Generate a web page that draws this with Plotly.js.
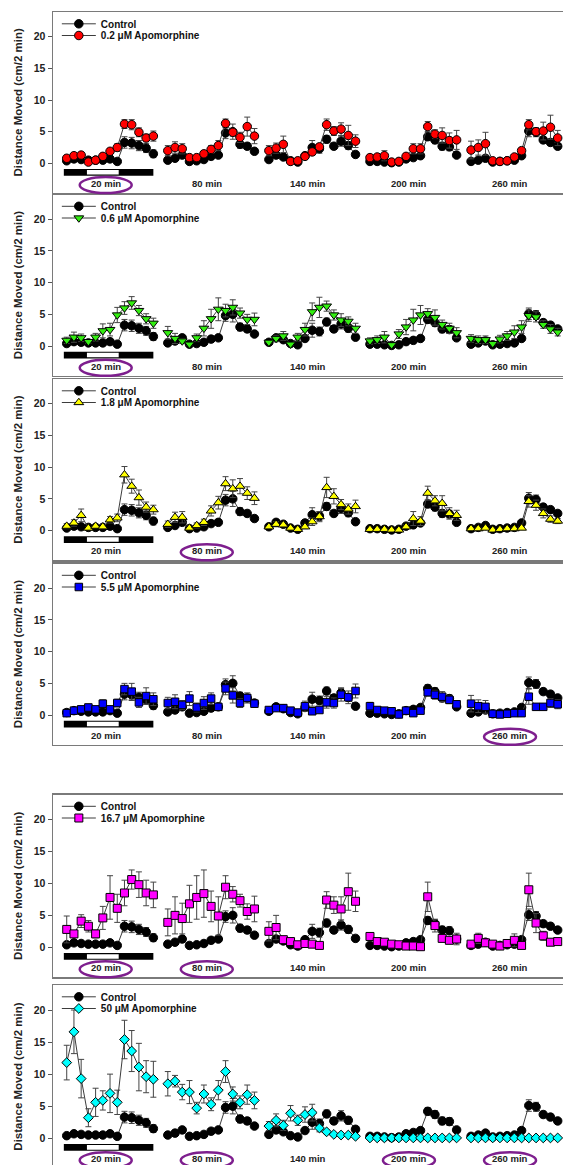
<!DOCTYPE html>
<html><head><meta charset="utf-8">
<script src="https://cdn.plot.ly/plotly-3.0.1.min.js"></script>
<style>html,body{margin:0;padding:0;overflow:hidden;background:#fff;width:563px;height:1165px}#chart{width:600px;height:1180px}</style>
</head><body><div id="chart"></div><script>
const groupLabels = ['20 min','80 min','140 min','200 min','260 min'];
const binsPerGroup = 13;

const controlMean = [
 0.4,0.7,0.6,0.5,0.5,0.5,0.7,0.3,3.3,3.2,2.8,2.4,1.5,
 0.5,0.8,1.3,0.3,0.4,0.6,1.1,1.3,4.8,5.0,3.0,2.7,1.9,
 0.6,1.3,1.0,0.4,0.2,1.2,2.5,2.3,3.8,2.7,3.5,2.8,1.4,
 0.3,0.3,0.2,0.1,0.2,0.7,0.9,1.2,4.2,3.7,2.7,2.6,1.3,
 0.3,0.5,0.8,0.2,0.3,0.4,0.5,1.2,5.1,4.9,3.7,3.3,2.7];
const controlSEM = [
 0.2,0.2,0.2,0.2,0.2,0.2,0.3,0.2,0.9,0.9,0.8,0.7,0.6,
 0.3,0.3,0.4,0.2,0.2,0.3,0.4,0.4,0.9,1.2,0.6,0.5,0.4,
 0.3,0.4,0.4,0.2,0.2,0.4,1.1,0.7,0.6,0.5,0.8,0.6,0.4,
 0.2,0.2,0.2,0.1,0.2,0.3,0.3,0.3,0.6,0.6,0.6,0.6,0.3,
 0.2,0.2,0.3,0.1,0.2,0.2,0.3,0.4,0.9,0.7,0.5,0.5,0.4];

const apo02Mean = [
 0.8,1.2,1.3,0.2,0.5,1.1,1.9,2.5,6.2,6.1,4.9,4.0,4.3,
 2.0,2.5,2.3,0.9,0.9,1.5,2.2,2.8,6.3,4.9,4.1,5.8,4.3,
 2.0,2.4,3.0,0.3,0.4,1.1,1.8,2.6,6.1,5.1,5.4,4.4,3.5,
 0.9,1.0,1.2,0.2,0.3,1.1,2.3,2.3,5.8,4.6,4.4,3.6,3.7,
 2.1,2.5,3.1,0.4,0.3,0.4,1.0,2.0,6.1,5.0,5.1,5.7,4.0];
const apo02SEM = [
 0.3,0.3,0.3,0.2,0.2,0.3,0.4,0.6,0.7,0.8,0.7,0.6,0.8,
 0.8,0.9,0.8,0.3,0.3,0.4,0.6,0.8,0.7,0.6,0.8,1.5,1.2,
 0.8,0.8,1.3,0.2,0.2,0.4,0.5,0.5,0.9,0.7,1.0,1.6,1.0,
 0.4,0.4,0.8,0.2,0.2,0.4,0.8,0.8,0.8,0.7,1.2,1.2,1.5,
 1.4,1.2,1.8,0.2,0.2,0.2,0.4,0.5,0.8,0.6,1.4,1.9,1.2];

const apo06Mean = [
 0.9,1.4,1.3,0.7,1.4,2.4,2.6,4.9,6.0,6.8,5.6,4.3,3.6,
 2.1,1.2,0.8,0.3,1.3,2.8,4.3,5.8,5.6,6.1,5.2,4.2,4.2,
 0.6,1.2,1.6,0.3,1.4,2.6,5.4,6.1,6.3,4.9,4.1,3.9,2.8,
 0.8,1.0,1.4,0.2,1.9,3.0,4.1,4.9,5.1,4.5,3.4,2.8,2.1,
 1.2,1.0,1.0,0.4,1.1,1.6,2.2,3.0,4.8,4.6,3.4,2.7,2.2];
const apo06SEM = [
 0.5,0.8,0.6,0.3,0.6,1.1,1.0,1.2,1.0,1.0,0.8,0.8,0.8,
 1.0,0.8,0.4,0.2,0.6,1.2,1.5,1.8,1.0,1.2,0.8,0.8,1.0,
 0.2,0.5,0.7,0.2,0.6,1.0,1.4,1.6,0.8,0.8,1.0,0.7,0.8,
 0.5,0.6,0.9,0.2,0.7,1.2,1.7,1.5,0.8,1.2,0.7,0.8,0.8,
 0.6,0.6,0.6,0.2,0.6,0.7,1.0,1.0,0.9,0.8,0.6,0.7,0.6];

const apo18Mean = [
 0.7,1.2,2.4,0.4,0.7,0.6,1.7,2.0,8.8,7.0,5.2,3.7,3.3,
 1.0,2.1,2.1,0.4,0.8,1.3,3.1,4.4,7.4,6.6,7.0,5.9,5.1,
 0.6,1.0,0.9,0.4,0.2,0.6,1.4,2.2,6.8,5.4,4.1,3.4,3.8,
 0.2,0.2,0.2,0.1,0.1,0.6,1.9,1.5,5.9,4.7,4.3,2.7,2.4,
 0.3,0.3,0.4,0.1,0.2,0.3,0.3,0.4,4.6,4.0,2.7,1.8,1.5];
const apo18SEM = [
 0.4,0.5,1.0,0.2,0.3,0.3,0.5,0.6,1.3,1.1,1.2,0.8,0.7,
 0.5,0.8,0.9,0.2,0.4,0.5,0.8,1.0,1.1,1.4,1.2,1.0,1.0,
 0.2,0.4,0.3,0.2,0.1,0.3,0.6,0.8,1.6,1.2,0.8,0.8,1.0,
 0.1,0.1,0.1,0.1,0.1,0.3,1.1,0.7,1.1,0.8,1.2,0.9,0.8,
 0.1,0.1,0.1,0.1,0.1,0.1,0.1,0.2,0.9,0.8,0.7,0.5,0.4];

const apo55Mean = [
 0.3,0.7,0.9,1.2,0.9,1.8,0.9,1.9,4.1,3.7,2.0,3.0,2.5,
 1.9,2.1,1.6,2.6,1.2,1.9,2.6,1.3,4.2,3.1,1.9,2.7,1.8,
 0.8,1.1,1.1,0.7,0.4,1.4,0.6,0.8,2.0,1.9,3.2,2.8,3.8,
 1.4,0.8,0.7,0.6,0.1,0.7,0.3,0.7,3.6,3.2,2.9,2.4,1.7,
 1.8,1.4,1.3,0.2,0.1,0.2,0.3,0.3,2.9,1.3,1.3,1.9,1.7];
const apo55SEM = [
 0.2,0.3,0.4,0.5,0.4,0.6,0.4,0.6,0.9,1.3,0.8,1.3,1.0,
 0.9,1.1,0.7,1.1,0.7,1.0,0.9,0.5,1.0,1.2,0.7,0.8,0.5,
 0.4,0.4,0.4,0.3,0.2,0.8,0.4,0.4,0.9,0.8,1.0,1.0,1.1,
 0.6,0.4,0.3,0.3,0.1,0.3,0.2,0.3,0.6,0.7,0.8,0.6,0.5,
 1.3,1.0,1.0,0.1,0.1,0.1,0.1,0.2,1.2,0.5,0.5,0.7,0.7];

const apo167Mean = [
 2.8,2.1,4.1,3.3,2.1,4.6,7.8,6.1,8.5,10.6,9.8,8.5,8.2,
 3.9,5.0,4.5,6.8,7.8,8.4,6.4,4.9,9.4,8.3,7.3,5.6,6.0,
 2.5,3.1,1.2,0.9,0.4,0.6,0.5,0.3,7.4,6.6,6.0,8.7,7.2,
 1.7,0.9,0.8,0.5,0.4,0.2,0.2,0.1,7.9,3.4,1.4,1.1,1.3,
 0.5,1.4,0.7,0.5,0.2,0.6,1.1,0.3,9.0,3.8,1.8,0.8,0.9];
const apo167SEM = [
 2.1,0.5,1.0,0.9,0.6,1.8,3.4,2.2,2.0,1.5,2.0,2.0,2.0,
 2.1,2.9,2.4,2.9,3.4,3.7,2.4,3.0,1.8,1.2,1.0,1.2,2.0,
 1.5,1.9,0.5,0.4,0.2,0.3,0.3,0.2,1.3,1.3,1.9,2.9,1.6,
 0.5,0.3,0.3,0.2,0.2,0.1,0.1,0.1,2.3,1.0,0.5,0.5,0.9,
 0.3,0.8,0.3,0.2,0.1,0.3,1.0,0.2,2.6,1.5,0.7,0.3,0.3];

const apo50Mean = [
 11.8,16.6,9.3,3.2,5.6,5.9,7.0,5.6,15.4,13.6,11.1,9.6,9.2,
 8.5,8.9,7.2,7.2,4.7,6.9,5.3,7.5,10.4,6.9,5.6,6.8,5.9,
 1.9,2.8,2.0,3.9,2.8,3.7,4.0,1.6,1.0,0.6,0.5,0.5,0.3,
 0.05,0.05,0.05,0.05,0.05,0.05,0.05,0.05,0.05,0.05,0.05,0.05,0.05,
 0.05,0.05,0.05,0.05,0.05,0.05,0.05,0.05,0.05,0.05,0.05,0.05,0.05];
const apo50SEM = [
 2.7,3.4,3.0,1.4,2.2,1.5,3.0,1.9,3.0,3.2,3.7,2.5,2.8,
 1.9,0.9,1.2,1.8,0.9,1.4,1.0,1.5,1.7,1.1,1.0,1.5,1.3,
 0.7,1.0,0.8,1.2,0.8,1.2,1.3,0.6,0.3,0.2,0.2,0.2,0.1,
 0.02,0.02,0.02,0.02,0.02,0.02,0.02,0.02,0.02,0.02,0.02,0.02,0.02,
 0.02,0.02,0.02,0.02,0.02,0.02,0.02,0.02,0.02,0.02,0.02,0.02,0.02];

const doseNames = ['0.2 \u03bcM Apomorphine','0.6 \u03bcM Apomorphine','1.8 \u03bcM Apomorphine',
                   '5.5 \u03bcM Apomorphine','16.7 \u03bcM Apomorphine','50 \u03bcM Apomorphine'];
const doseMeans = [apo02Mean, apo06Mean, apo18Mean, apo55Mean, apo167Mean, apo50Mean];
const doseSEMs  = [apo02SEM, apo06SEM, apo18SEM, apo55SEM, apo167SEM, apo50SEM];
const doseColors = ['#ff0000','#33ee11','#ffff00','#0000ff','#ff00ff','#00ffff'];
const doseSymbols = ['circle','triangle-down','triangle-up','square','square','diamond'];
const doseSizes = [8.5,8.5,8.5,7.5,8,7.5];
const circledGroups = [[0],[0],[1],[4],[0,1],[0,1,3,4]];

// ---------- layout geometry ----------
const W = 600, H = 1180, ML = 53;
const panelPx = [[12,192.7],[194.5,375.5],[379,560],[563.5,744.5],[794.5,977],[985,1168]];
const yRange = [-4.64, 23.9];
const xRange = [-1.9, 73.86];
const gstep = binsPerGroup + 1;
const FONT = 'Liberation Sans, Arial, sans-serif';
const purple = '#7e1f8e';

function expand(vals) {
  const x = [], y = [];
  for (let g = 0; g < groupLabels.length; g++) {
    for (let b = 0; b < binsPerGroup; b++) {
      x.push(g * gstep + b); y.push(vals[g * binsPerGroup + b]);
    }
    if (g < groupLabels.length - 1) { x.push(g * gstep + binsPerGroup); y.push(null); }
  }
  return {x, y};
}
function expandErr(vals) {
  const e = [];
  for (let g = 0; g < groupLabels.length; g++) {
    for (let b = 0; b < binsPerGroup; b++) e.push(vals[g * binsPerGroup + b]);
    if (g < groupLabels.length - 1) e.push(null);
  }
  return e;
}

const traces = [], layout = {
  width: W, height: H, margin: {l: ML, r: 0, t: 0, b: 0, autoexpand: false},
  paper_bgcolor: '#fff', plot_bgcolor: '#fff', showlegend: true,
  font: {family: FONT, color: '#222'},
  shapes: [], annotations: []
};
function legendCfg(ypx) {
  return {
    x: 0.007, xanchor: 'left', y: 1 - ypx / H, yanchor: 'top',
    bgcolor: 'rgba(0,0,0,0)', borderwidth: 0, itemwidth: 34, tracegroupgap: 0,
    font: {family: FONT, size: 10, weight: 'bold', color: '#111'}
  };
}

for (let p = 0; p < 6; p++) {
  const sfx = p === 0 ? '' : String(p + 1);
  const xa = 'x' + sfx, ya = 'y' + sfx;
  const lgA = 'legend' + (p === 0 ? '' : String(2 * p + 1));
  const lgB = 'legend' + String(2 * p + 2);
  const [top, bot] = panelPx[p];
  const hpx = bot - top;
  const toPaperY = v => 1 - (bot - (v - yRange[0]) / (yRange[1] - yRange[0]) * hpx) / H;

  layout['xaxis' + sfx] = {
    domain: [0, 1], anchor: ya, range: xRange, showline: true, mirror: true,
    linecolor: '#7a7a7a', linewidth: 1.5, showticklabels: false, ticks: '',
    showgrid: false, zeroline: false, fixedrange: true
  };
  layout['yaxis' + sfx] = {
    domain: [1 - bot / H, 1 - top / H], anchor: xa, range: yRange,
    tickvals: [0, 5, 10, 15, 20], ticks: 'outside', ticklen: 4, tickcolor: '#555', tickwidth: 1,
    showline: true, mirror: true, linecolor: '#7a7a7a', linewidth: 1.5,
    showgrid: false, zeroline: false, fixedrange: true,
    tickfont: {family: FONT, size: 10.5, weight: 'bold', color: '#222'},
    title: {text: 'Distance Moved (cm/2 min)', standoff: 8,
            font: {family: FONT, size: 11.5, weight: 'bold', color: '#222'}}
  };
  layout[lgA] = legendCfg(top - 2.7);
  layout[lgB] = legendCfg(top + 9);

  const c = expand(controlMean);
  traces.push({
    x: c.x, y: c.y, xaxis: xa, yaxis: ya, legend: lgA, name: 'Control',
    mode: 'lines+markers', connectgaps: false,
    line: {color: '#3c3c3c', width: 1},
    marker: {symbol: 'circle', size: 8.5, color: '#000', line: {color: '#000', width: 1}},
    error_y: {type: 'data', array: expandErr(controlSEM), color: '#444', thickness: 1, width: 3}
  });
  const d = expand(doseMeans[p]);
  traces.push({
    x: d.x, y: d.y, xaxis: xa, yaxis: ya, legend: lgB, name: doseNames[p],
    mode: 'lines+markers', connectgaps: false,
    line: {color: '#3c3c3c', width: 1},
    marker: {symbol: doseSymbols[p], size: doseSizes[p], color: doseColors[p], line: {color: '#000', width: 1}},
    error_y: {type: 'data', array: expandErr(doseSEMs[p]), color: '#444', thickness: 1, width: 3}
  });

  // light/dark bar under first group
  layout.shapes.push({type: 'rect', xref: xa, yref: ya, x0: -0.4, x1: binsPerGroup - 1,
    y0: -0.9, y1: -1.95, fillcolor: '#000', line: {width: 0}, layer: 'above'});
  layout.shapes.push({type: 'rect', xref: xa, yref: ya, x0: 2.8, x1: 7.2,
    y0: -1.07, y1: -1.78, fillcolor: '#fff', line: {width: 0}, layer: 'above'});

  // group labels
  groupLabels.forEach((t, g) => {
    layout.annotations.push({text: t, xref: xa, yref: ya, x: g * gstep + 5.4, y: -3.2,
      showarrow: false, font: {family: FONT, size: 9.5, weight: 'bold', color: '#222'}});
  });
  // purple ellipses
  circledGroups[p].forEach(g => {
    const cx = g * gstep + 5.4;
    const cy = toPaperY(-3.2) - 1.5 / H;
    layout.shapes.push({type: 'circle', xref: xa, yref: 'paper', x0: cx - 3.6, x1: cx + 3.6,
      y0: cy - 8 / H, y1: cy + 8 / H, line: {color: purple, width: 2.5}, fillcolor: 'rgba(0,0,0,0)', layer: 'above'});
  });
}

Plotly.newPlot('chart', traces, layout, {staticPlot: true, displayModeBar: false});
</script></body></html>
